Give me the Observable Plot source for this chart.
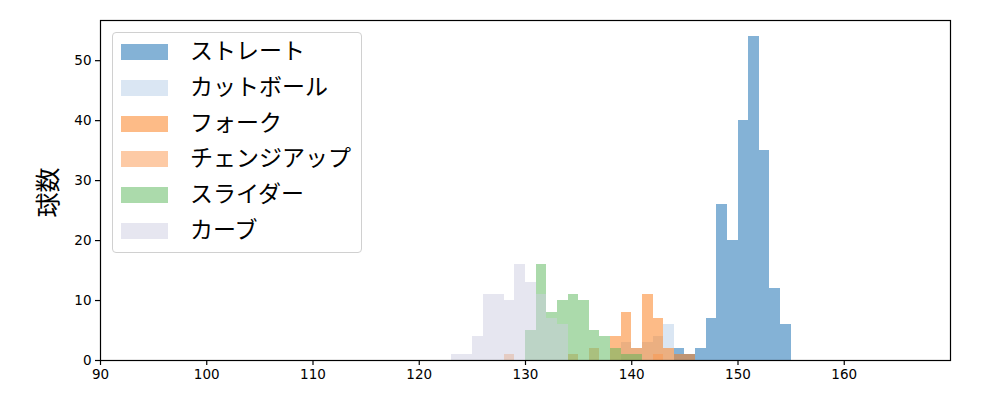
<!DOCTYPE html>
<html>
<head>
<meta charset="utf-8">
<script src="https://cdn.jsdelivr.net/npm/d3@7"></script>
<script src="https://cdn.jsdelivr.net/npm/@observablehq/plot@0.6"></script>
<style>
  html, body { margin: 0; padding: 0; background: white; }
  #wrap { position: relative; width: 1000px; height: 400px; }
  #legend { position: absolute; left: 112px; top: 32px; width: 248px; height: 219px;
    border: 1px solid #d0d0d0; border-radius: 4px; background: rgba(255,255,255,0.8);
    font-family: "Noto Sans CJK JP", sans-serif; font-size: 23px; color: #000; }
  .row { position: absolute; left: 0; height: 36px; }
  .sw { position: absolute; left: 8px; width: 47px; height: 16px; }
  .lb { position: absolute; left: 77px; white-space: nowrap; line-height: 1; }
</style>
</head>
<body>
<div id="wrap"></div>
<script>
const pitchNames = ["ストレート", "カットボール", "フォーク", "チェンジアップ", "スライダー", "カーブ"];
const pitchColors = ["#0965ad", "#b5cde7", "#fb770f", "#fb954b", "#57b557", "#cdcde1"];

const straightBins = [144, 145, 146, 147, 148, 149, 150, 151, 152, 153, 154];
const straightCounts = [2, 1, 2, 7, 26, 20, 40, 54, 35, 12, 6];
const cutBins = [139, 140, 141, 142, 143];
const cutCounts = [3, 2, 3, 4, 6];
const forkBins = [138, 139, 140, 141, 142, 143, 144, 145];
const forkCounts = [4, 8, 2, 11, 7, 2, 1, 1];
const changeBins = [128, 134, 136, 142];
const changeCounts = [1, 1, 2, 1];
const sliderBins = [130, 131, 132, 133, 134, 135, 136, 137, 138, 139, 140];
const sliderCounts = [5, 16, 8, 10, 11, 10, 5, 4, 2, 1, 1];
const curveBins = [123, 124, 125, 126, 127, 128, 129, 130, 131, 132, 133];
const curveCounts = [1, 1, 4, 11, 11, 10, 16, 13, 11, 7, 6];

const binWidth = 1;
const xTicks = [90, 100, 110, 120, 130, 140, 150, 160];
const yTicks = [0, 10, 20, 30, 40, 50];

const seriesBins = [straightBins, cutBins, forkBins, changeBins, sliderBins, curveBins];
const seriesCounts = [straightCounts, cutCounts, forkCounts, changeCounts, sliderCounts, curveCounts];

const rectMarks = pitchNames.map((name, i) => {
  const rows = seriesBins[i].map((b, j) => ({x1: b, x2: b + binWidth, y: seriesCounts[i][j]}));
  return Plot.rectY(rows, {x1: "x1", x2: "x2", y1: 0, y2: "y", fill: pitchColors[i], fillOpacity: 0.5, shapeRendering: "crispEdges"});
});

const chart = Plot.plot({
  width: 1000, height: 400,
  marginLeft: 100, marginRight: 50, marginTop: 20, marginBottom: 40,
  x: {domain: [90, 170]},
  y: {domain: [0, 56.7]},
  style: {fontFamily: "DejaVu Sans", fontSize: "13.5px", color: "#000", background: "white"},
  marks: [
    ...rectMarks,
    Plot.frame({stroke: "#000", strokeWidth: 1.2}),
    Plot.axisX({ticks: xTicks, tickSize: 5, tickPadding: 4, tickFormat: d => String(d), label: null, strokeWidth: 1.2}),
    Plot.axisY({ticks: yTicks, tickSize: 5, tickPadding: 4, tickFormat: d => String(d), label: null, strokeWidth: 1.2}),
    Plot.text([0], {frameAnchor: "left", textAnchor: "middle", text: () => "球数", rotate: -90, dx: -52, dy: 2, fontSize: 25, fontFamily: "Noto Sans CJK JP", fill: "#000"})
  ]
});
const wrap = document.getElementById("wrap");
wrap.appendChild(chart);

const legend = document.createElement("div");
legend.id = "legend";
pitchNames.forEach((name, i) => {
  const row = document.createElement("div");
  row.className = "row";
  row.style.top = (11 + i * 35.8) + "px";
  const sw = document.createElement("div");
  sw.className = "sw";
  sw.style.background = pitchColors[i];
  sw.style.opacity = 0.5;
  const lb = document.createElement("div");
  lb.className = "lb";
  lb.style.top = "-6px";
  lb.textContent = name;
  row.appendChild(sw);
  row.appendChild(lb);
  legend.appendChild(row);
});
wrap.appendChild(legend);
</script>
</body>
</html>
